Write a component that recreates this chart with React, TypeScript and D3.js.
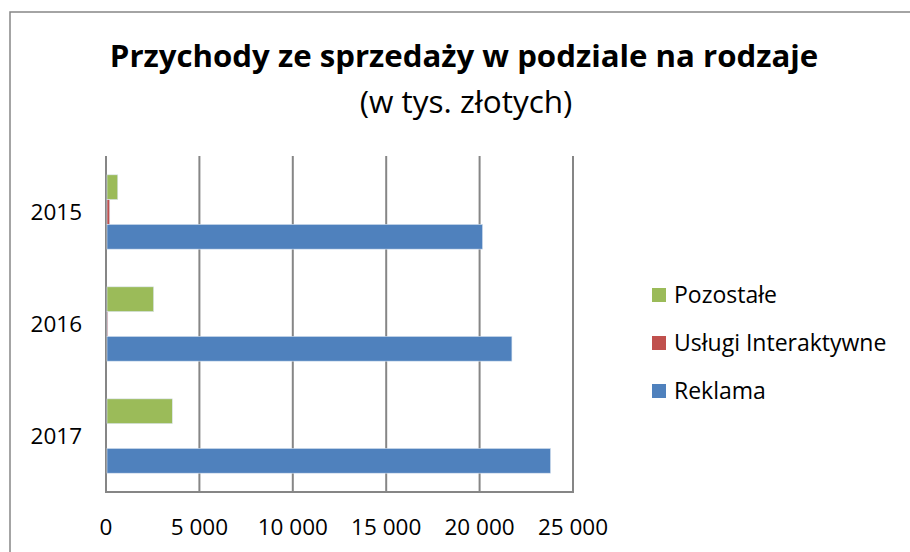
import React from 'react';
import * as d3 from 'd3';

// values in thousands PLN
const years = ['2015', '2016', '2017'];
const seriesNames = ['Pozostałe', 'Usługi Interaktywne', 'Reklama'];
const pozostale = [630, 2550, 3550];
const uslugi = [200, 50, 0];
const reklama = [20160, 21730, 23800];
const xTicks = [0, 5000, 10000, 15000, 20000, 25000];

const colors: Record<string, string> = {
    'Pozostałe': '#9BBB59',
    'Usługi Interaktywne': '#C0504D',
    'Reklama': '#4F81BD'
};

const W = 910;
const H = 552;
const font = '"Open Sans", sans-serif';
const grey = '#868686';

const fmt = (v: number) => d3.format(',')(v).replace(/,/g, ' ');

export default function App() {
    const valuesBySeries: Record<string, number[]> = {
        'Pozostałe': pozostale,
        'Usługi Interaktywne': uslugi,
        'Reklama': reklama
    };

    const x = d3.scaleLinear().domain([0, 25000]).range([106, 573]);
    const y = d3.scaleBand().domain(years).range([156, 492]).paddingInner(0.3365).paddingOuter(0.168);
    const inner = d3.scaleBand().domain(seriesNames).range([0, y.bandwidth()]);

    const legendY = d3.scalePoint().domain(seriesNames).range([295, 391]);

    return (
        <svg width={W} height={H} style={{ position: 'absolute', left: 0, top: 0, display: 'block' }}>
            <rect x={0} y={0} width={W} height={H} fill="#fff" />
            <rect x={10} y={12} width={W + 20} height={H + 20} fill="#fff" stroke={grey} strokeWidth={1.5} />

            <text x={464} y={67} textAnchor="middle" fontFamily={font} fontWeight="bold" fontSize={31.2} fill="#000">
                Przychody ze sprzedaży w podziale na rodzaje
            </text>
            <text x={466} y={113} textAnchor="middle" fontFamily={font} fontSize={31.5} fill="#000">
                (w tys. złotych)
            </text>

            {/* vertical grid lines */}
            {xTicks.map(t => (
                <line key={'g' + t} x1={x(t)} x2={x(t)} y1={156} y2={492} stroke={grey} strokeWidth={2} />
            ))}
            <line x1={x(0) - 1} x2={x(25000) + 1} y1={492} y2={492} stroke={grey} strokeWidth={2} />

            {years.map((yr, i) => (
                <g key={yr} transform={`translate(0, ${y(yr)})`}>
                    {seriesNames.map(s => {
                        const v = valuesBySeries[s][i];
                        if (v <= 0) return null;
                        return (
                            <rect key={s} x={x(0) + 1} y={inner(s)} width={Math.max(x(v) - x(0) - 1, 0.8)}
                                height={inner.bandwidth()} fill={colors[s]} stroke="#dbe5f1" strokeWidth={0.6} />
                        );
                    })}
                </g>
            ))}

            {/* category labels */}
            {years.map(yr => (
                <text key={'l' + yr} x={82} y={(y(yr) as number) + y.bandwidth() / 2 + 8} textAnchor="end"
                    fontFamily={font} fontSize={22.5} fill="#000">{yr}</text>
            ))}

            {/* x tick labels */}
            {xTicks.map(t => (
                <text key={'t' + t} x={x(t)} y={535} textAnchor="middle" fontFamily={font} fontSize={22.5} fill="#000">
                    {fmt(t)}
                </text>
            ))}

            {/* legend */}
            {seriesNames.map(s => (
                <g key={'lg' + s} transform={`translate(652, ${legendY(s)})`}>
                    <rect x={0} y={-7} width={14} height={14} fill={colors[s]} />
                    <text x={22} y={8} fontFamily={font} fontSize={23} fill="#000">{s}</text>
                </g>
            ))}
        </svg>
    );
}
